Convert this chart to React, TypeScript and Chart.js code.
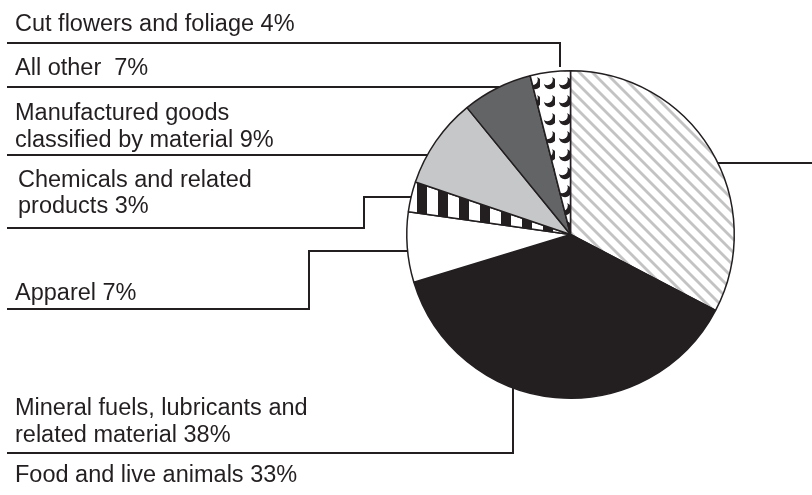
import React, { useEffect, useRef } from "react";
import { Chart, registerables } from "chart.js";

Chart.register(...registerables);

// ---- data ----
const categories = [
  "Food and live animals",
  "Mineral fuels, lubricants and related material",
  "Apparel",
  "Chemicals and related products",
  "Manufactured goods classified by material",
  "All other",
  "Cut flowers and foliage",
];
const shares = [33, 38, 7, 3, 9, 7, 4];
const labelLines = [
  ["Food and live animals"],
  ["Mineral fuels, lubricants and", "related material"],
  ["Apparel"],
  ["Chemicals and related", "products"],
  ["Manufactured goods", "classified by material"],
  ["All other "],
  ["Cut flowers and foliage"],
];

const INK = "#231f20";
const FONT = '23.5px "Liberation Sans", Arial, Helvetica, sans-serif';

type Anchor = { kind: "h" | "v"; at: number; side: number; gap?: number };
type Layout = { textX: number; baselines: number[]; path: number[][]; anchor: Anchor };

const layouts: Layout[] = [
  { textX: 15, baselines: [482], path: [[812, 163]], anchor: { kind: "h", at: 163, side: 1 } },
  { textX: 15, baselines: [415, 442], path: [[7, 453], [513, 453]], anchor: { kind: "v", at: 513, side: 1 } },
  { textX: 15, baselines: [300], path: [[7, 309], [309, 309], [309, 251]], anchor: { kind: "h", at: 251, side: -1 } },
  { textX: 18, baselines: [187, 213], path: [[7, 228], [364, 228], [364, 197]], anchor: { kind: "h", at: 197, side: -1 } },
  { textX: 15, baselines: [120, 147], path: [[7, 155]], anchor: { kind: "h", at: 155, side: -1 } },
  { textX: 15, baselines: [75], path: [[7, 87]], anchor: { kind: "h", at: 87, side: -1 } },
  { textX: 15, baselines: [31], path: [[7, 43], [560, 43]], anchor: { kind: "v", at: 560, side: -1, gap: 4 } },
];

function makeTile(w: number, h: number, draw: (c: CanvasRenderingContext2D) => void) {
  const cv = document.createElement("canvas");
  cv.width = w;
  cv.height = h;
  const c = cv.getContext("2d")!;
  draw(c);
  return cv;
}

function makeFills(ctx: CanvasRenderingContext2D) {
  const hatch = makeTile(13, 13, (c) => {
    c.fillStyle = "#ffffff";
    c.fillRect(0, 0, 13, 13);
    c.strokeStyle = "#c3c3c3";
    c.lineWidth = 2.8;
    for (let k = -1; k <= 1; k++) {
      c.beginPath();
      c.moveTo(-2, -2 + k * 13);
      c.lineTo(15, 15 + k * 13);
      c.stroke();
    }
  });
  const stripes = makeTile(21, 4, (c) => {
    c.fillStyle = "#ffffff";
    c.fillRect(0, 0, 21, 4);
    c.fillStyle = INK;
    c.fillRect(18, 0, 3, 4);
    c.fillRect(0, 0, 7, 4);
  });
  const crescents = makeTile(15, 18, (c) => {
    c.fillStyle = "#ffffff";
    c.fillRect(0, 0, 15, 18);
    c.fillStyle = INK;
    c.beginPath();
    c.arc(10, 11, 6.2, 0, Math.PI * 2);
    c.fill();
    c.fillStyle = "#ffffff";
    c.beginPath();
    c.arc(7.2, 7.6, 5.6, 0, Math.PI * 2);
    c.fill();
  });
  return [
    ctx.createPattern(hatch, "repeat")!,
    INK,
    "#ffffff",
    ctx.createPattern(stripes, "repeat")!,
    "#c6c7c8",
    "#636466",
    ctx.createPattern(crescents, "repeat")!,
  ];
}

const leaderPlugin = {
  id: "leaders",
  afterDatasetsDraw(chart: any) {
    const ctx: CanvasRenderingContext2D = chart.ctx;
    const meta = chart.getDatasetMeta(0);
    ctx.save();
    ctx.strokeStyle = INK;
    ctx.lineWidth = 2;
    ctx.lineJoin = "miter";
    ctx.fillStyle = INK;
    ctx.font = FONT;
    ctx.textBaseline = "alphabetic";
    ctx.textAlign = "left";
    layouts.forEach((lay, i) => {
      const arc = meta.data[i] as any;
      const { x: cx, y: cy, outerRadius: R } = arc.getProps(["x", "y", "outerRadius"], true);
      const a = lay.anchor;
      let end: number[];
      if (a.kind === "h") {
        const d = a.at - cy;
        end = [cx + a.side * Math.sqrt(Math.max(R * R - d * d, 0)), a.at];
      } else {
        const d = a.at - cx;
        const off = Math.sqrt(Math.max(R * R - d * d, 0)) + (a.gap || 0);
        end = [a.at, cy + a.side * off];
      }
      const pts = [...lay.path, end];
      ctx.beginPath();
      ctx.moveTo(pts[0][0], pts[0][1]);
      for (let k = 1; k < pts.length; k++) ctx.lineTo(pts[k][0], pts[k][1]);
      ctx.stroke();
      const lines = labelLines[i].slice();
      lines[lines.length - 1] = `${lines[lines.length - 1]} ${shares[i]}%`;
      lines.forEach((t, k) => ctx.fillText(t, lay.textX, lay.baselines[k]));
    });
    ctx.restore();
  },
};

export default function App() {
  const ref = useRef<HTMLCanvasElement | null>(null);
  useEffect(() => {
    document.body.style.margin = "0";
    const canvas = ref.current!;
    const ctx = canvas.getContext("2d")!;
    const chart = new Chart(ctx, {
      type: "pie",
      data: {
        labels: categories,
        datasets: [
          {
            data: shares,
            backgroundColor: makeFills(ctx) as any,
            borderColor: INK,
            borderWidth: 1.5,
          },
        ],
      },
      options: {
        animation: false,
        responsive: true,
        maintainAspectRatio: false,
        events: [],
        layout: { padding: { left: 406, right: 77, top: 70, bottom: 96 } },
        plugins: { legend: { display: false }, tooltip: { enabled: false } },
      },
      plugins: [leaderPlugin],
    });
    return () => chart.destroy();
  }, []);
  return (
    <div style={{ position: "absolute", left: 0, top: 0, width: 812, height: 495, background: "#fff" }}>
      <canvas ref={ref} />
    </div>
  );
}
